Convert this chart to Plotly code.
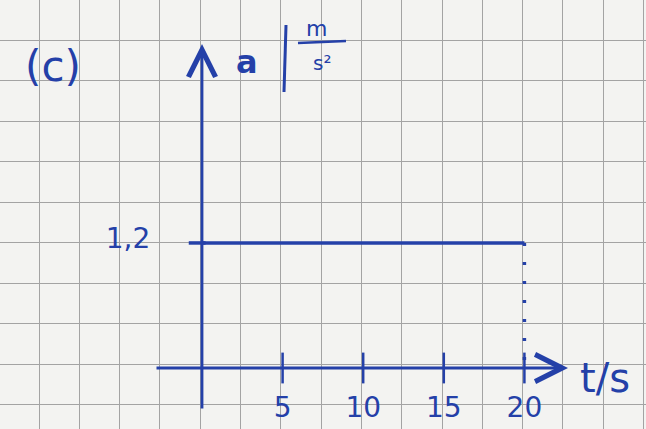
import plotly.graph_objects as go

# ---- data ----
t_line = [0, 20]
a_line = [1.2, 1.2]
drop_t = [20, 20]
drop_a = [1.2, 0]
tick_vals = [5, 10, 15, 20]
tick_labels = ["5", "10", "15", "20"]
a_value = 1.2
a_label = "1,2"

W, H = 646, 429
ink = "#2440a8"
paper = "#f3f3f1"
grid = "#a3a3a3"

# pixel scale (paper grid: 2 squares = 5 s, 3 squares = 1.2 m/s^2)
ox, oy = 202, 368
sx, sy = 16.12, 104.2
xr = [-ox / sx, (W - ox) / sx]
yr = [-(H - oy) / sy, oy / sy]

def px(x):
    return (x - ox) / sx

def py(y):
    return (oy - y) / sy

fig = go.Figure()

# grid paper on overlay axes
fig.add_trace(go.Scatter(x=[0], y=[0], xaxis="x2", yaxis="y2", mode="markers",
                         marker=dict(opacity=0), hoverinfo="skip", showlegend=False))

# main constant line
fig.add_trace(go.Scatter(x=t_line, y=a_line, mode="lines",
                         line=dict(color=ink, width=3.5), showlegend=False))
# dotted drop
fig.add_trace(go.Scatter(x=drop_t, y=drop_a, mode="lines",
                         line=dict(color=ink, width=3.5, dash="3px,16px"), showlegend=False))
# x ticks
fig.add_trace(go.Scatter(x=tick_vals, y=[0] * len(tick_vals), mode="markers",
                         marker=dict(symbol="line-ns-open", size=22, color=ink,
                                     line=dict(color=ink, width=2.5)),
                         showlegend=False))
# y tick
fig.add_trace(go.Scatter(x=[-0.3], y=[a_value], mode="markers",
                         marker=dict(symbol="line-ew-open", size=12, color=ink,
                                     line=dict(color=ink, width=3.5)),
                         showlegend=False))
# tick labels
fig.add_trace(go.Scatter(x=tick_vals, y=[py(410)] * len(tick_vals), mode="text",
                         text=tick_labels, textposition="middle center",
                         textfont=dict(family="DejaVu Sans", size=28, color=ink), showlegend=False))
fig.add_trace(go.Scatter(x=[px(128)], y=[py(241)], mode="text", text=[a_label],
                         textposition="middle center",
                         textfont=dict(family="DejaVu Sans", size=28, color=ink), showlegend=False))

def lbl(x, y, text, size, xanchor="center"):
    return dict(x=x / W, y=1 - y / H, xref="paper", yref="paper", text=text, showarrow=False,
                xanchor=xanchor, yanchor="middle", font=dict(family="DejaVu Sans", size=size, color=ink))

annotations = [
    # x axis arrow
    dict(x=px(568), y=0, ax=px(155), ay=0, xref="x", yref="y", axref="x", ayref="y",
         showarrow=True, arrowhead=5, arrowsize=1.9, arrowwidth=2.8, arrowcolor=ink, text=""),
    # y axis arrow
    dict(x=0, y=py(44), ax=0, ay=py(410), xref="x", yref="y", axref="x", ayref="y",
         showarrow=True, arrowhead=5, arrowsize=1.9, arrowwidth=2.8, arrowcolor=ink, text=""),
    lbl(53, 66, "(c)", 42),
    lbl(247, 62, "<b>a</b>", 32),
    lbl(316, 28, "m", 22),
    lbl(322, 63, "s²", 20),
    lbl(578, 378, "t/s", 40, xanchor="left"),
]

shapes = [
    dict(type="line", xref="paper", yref="paper", x0=286 / W, y0=1 - 25 / H, x1=284 / W, y1=1 - 92 / H,
         line=dict(color=ink, width=3)),
    dict(type="line", xref="paper", yref="paper", x0=298 / W, y0=1 - 43 / H, x1=346 / W, y1=1 - 41 / H,
         line=dict(color=ink, width=2.5)),
]

fig.update_layout(
    width=W, height=H,
    margin=dict(l=0, r=0, t=0, b=0),
    paper_bgcolor=paper, plot_bgcolor=paper,
    showlegend=False,
    xaxis=dict(range=xr, visible=False, fixedrange=True),
    yaxis=dict(range=yr, visible=False, fixedrange=True),
    xaxis2=dict(range=[0, W], overlaying="x", showgrid=True, gridcolor=grid, gridwidth=1.3,
                tick0=39, dtick=40.3, showticklabels=False, zeroline=False, ticks="", showline=False),
    yaxis2=dict(range=[H, 0], overlaying="y", showgrid=True, gridcolor=grid, gridwidth=1.3,
                tick0=40, dtick=40.5, showticklabels=False, zeroline=False, ticks="", showline=False),
    annotations=annotations,
    shapes=shapes,
)

fig.write_html("out.html", config={"displayModeBar": False},
               post_script="document.body.style.margin='0';document.body.style.overflow='hidden';")
